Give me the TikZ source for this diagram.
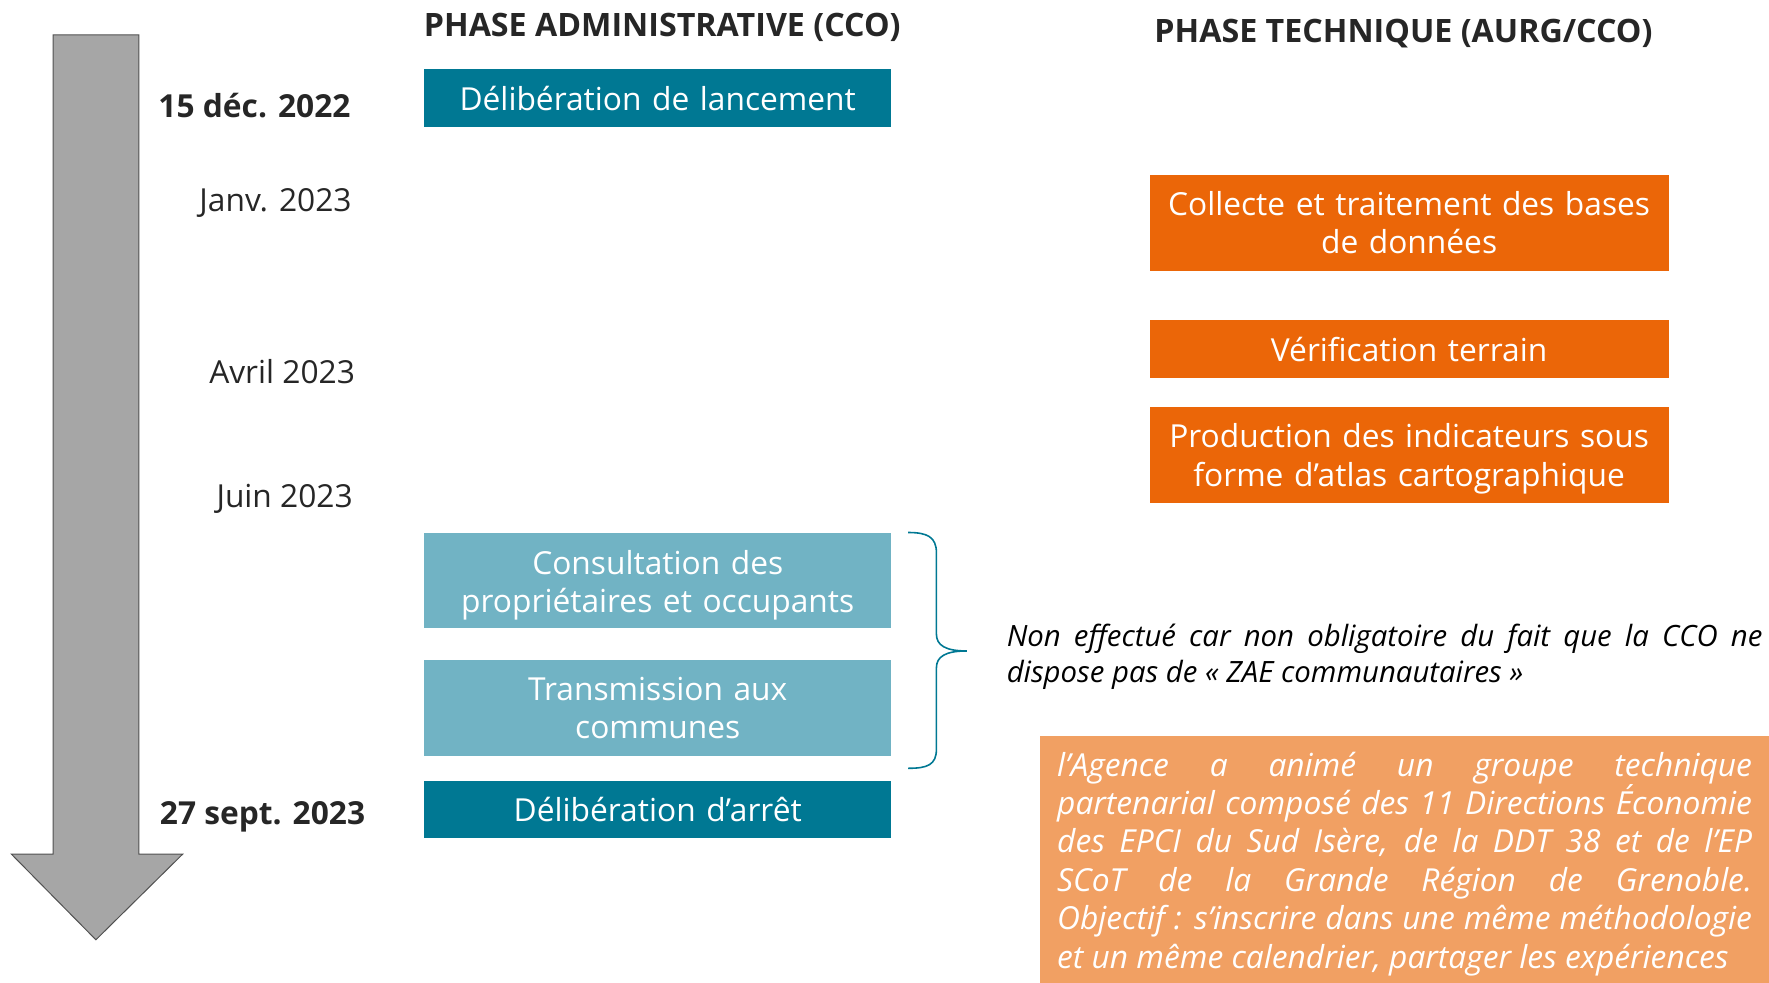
\documentclass[tikz,border=0pt]{standalone}
\usepackage{fontspec}
\setmainfont{Open Sans}
\usepackage{tikz}

\definecolor{darkteal}{HTML}{007893}
\definecolor{lightteal}{HTML}{71B3C4}
\definecolor{techorange}{HTML}{EB6608}
\definecolor{paleorange}{HTML}{F1A063}
\definecolor{arrowgray}{HTML}{A6A6A6}
\definecolor{inkgray}{HTML}{262626}

\begin{document}
\begin{tikzpicture}[x=0.02cm, y=-0.02cm,
		phasebox/.style={text=white, inner sep=0pt, align=center, font=\fontsize{16}{19.3}\selectfont},
		adminbox/.style={phasebox, minimum width=8.28cm, text width=8cm},
		techbox/.style={phasebox, fill=techorange, minimum width=9.2cm, text width=9cm},
		lowertext/.style={execute at begin node={\rule{0pt}{#1}}},
		datelabel/.style={anchor=east, inner sep=0pt, text=inkgray, font=\fontsize{16}{19.3}\selectfont},
		heading/.style={inner sep=0pt, text=inkgray, font=\fontsize{16.25}{19.3}\selectfont\bfseries}]
		\useasboundingbox (0, 0) rectangle (1568, 871);
		
		% time arrow
		\draw[fill=arrowgray, draw=inkgray!80, line width=0.5pt] (47, 31) -- (123, 31) -- (123, 757) -- (162, 757) -- (85, 833) -- (10, 757) -- (47, 757) -- cycle;
		
		\node[heading] (hadmin) at (587, 24) {PHASE ADMINISTRATIVE (CCO)};
		\node[heading] (htech) at (1244, 30) {PHASE TECHNIQUE (AURG/CCO)};
		
		\node[datelabel, font=\fontsize{16}{19.3}\selectfont\bfseries] (dlanc) at (311, 94) {15 déc. 2022};
		\node[datelabel] (djanv) at (312, 180) {Janv. 2023};
		\node[datelabel] (davril) at (315, 329) {Avril 2023};
		\node[datelabel] (djuin) at (313, 442) {Juin 2023};
		\node[datelabel, font=\fontsize{16}{19.3}\selectfont\bfseries] (darret) at (324, 724) {27 sept. 2023};
		
		\node[adminbox, fill=darkteal, minimum height=1.04cm] (lanc) at (583, 87) {Délibération de lancement};
		\node[adminbox, fill=lightteal, minimum height=1.7cm, lowertext=16.7pt] (cons) at (583, 514.5) {Consultation des\\propriétaires et occupants};
		\node[adminbox, fill=lightteal, minimum height=1.7cm] (trans) at (583, 627.5) {Transmission aux\\communes};
		\node[adminbox, fill=darkteal, minimum height=1.02cm] (arret) at (583, 717.5) {Délibération d’arrêt};
		
		\node[techbox, minimum height=1.7cm] (coll) at (1249, 197.5) {Collecte et traitement des bases\\de données};
		\node[techbox, minimum height=1.02cm] (verif) at (1249, 309.5) {Vérification terrain};
		\node[techbox, minimum height=1.7cm, lowertext=15.6pt] (prod) at (1249, 403.5) {Production des indicateurs sous\\forme d’atlas cartographique};
		
		% brace
		\draw[darkteal, line width=0.8pt] (805, 472) .. controls (822, 472) and (830, 476) .. (830, 490) -- (830, 562) .. controls (830, 572) and (838, 577) .. (857, 577) .. controls (838, 577) and (830, 582) .. (830, 592) -- (830, 664) .. controls (830, 678) and (822, 681) .. (805, 681);
		
		\node[anchor=west, inner sep=0pt, text width=13.4cm, align=justify, font=\fontsize{14.8}{18.2}\selectfont\itshape] (nonfait) at (892, 582) {Non effectué car non obligatoire du fait que la CCO ne\linebreak dispose pas de «~ZAE communautaires~»};
		
		\node[fill=paleorange, text=white, minimum width=12.92cm, minimum height=4.38cm, inner xsep=0.3cm, inner ysep=0pt, text width=12.32cm, align=justify, lowertext=17pt, font=\fontsize{16}{19.35}\selectfont\itshape] (agence) at (1245, 761.5) {l’Agence a animé un groupe technique\linebreak partenarial composé des 11 Directions Économie\linebreak des EPCI du Sud Isère, de la DDT 38 et de l’EP\linebreak SCoT de la Grande Région de Grenoble.\linebreak Objectif~: s’inscrire dans une même méthodologie\linebreak et un même calendrier, partager les expériences};
	\end{tikzpicture}
\end{document}
